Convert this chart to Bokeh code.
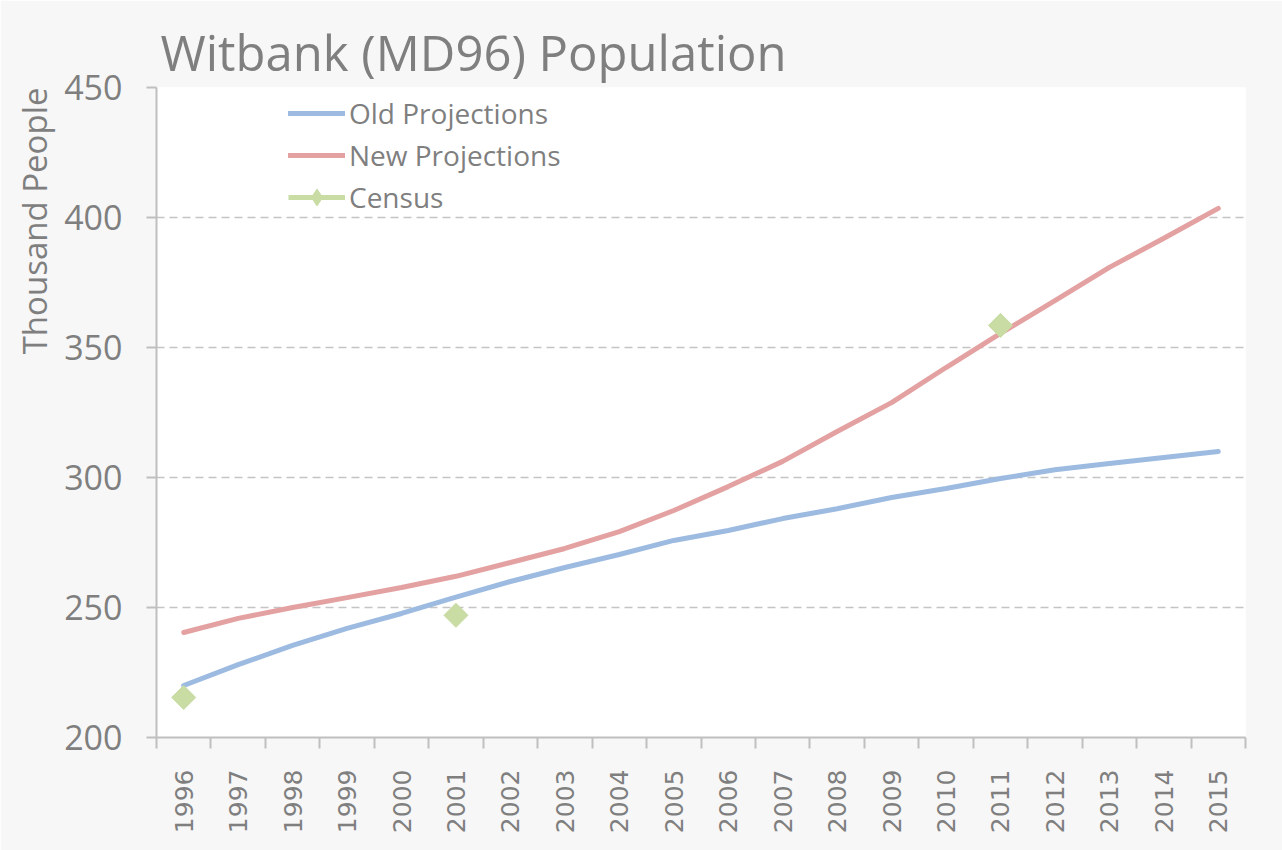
import math
from bokeh.plotting import figure
from bokeh.models import (Range1d, FixedTicker, Legend, LegendItem, Title, ColumnDataSource)
from bokeh.embed import file_html
from bokeh.resources import INLINE

years = list(range(1996, 2016))
old_proj = [220.0, 228.0, 235.4, 242.0, 247.7, 254.0, 260.0, 265.4, 270.4, 275.8,
            279.6, 284.2, 288.0, 292.3, 295.8, 299.6, 303.0, 305.4, 307.7, 310.0]
new_proj = [240.4, 245.8, 250.0, 253.8, 257.7, 262.0, 267.3, 272.7, 279.2, 287.3,
            296.5, 306.2, 317.7, 328.8, 342.3, 355.4, 368.0, 380.8, 392.0, 403.5]
census_years = [1996, 2001, 2011]
census_vals = [215.4, 247.0, 358.5]
y_ticks = [200, 250, 300, 350, 400, 450]

BLUE = "#9dbbe1"
RED = "#e3a2a1"
GREEN = "#c8dca4"
AXIS = "#bfbfbf"
TXT = "#7f7f7f"
FONT = "Open Sans"

p = figure(width=1282, height=850, output_backend="svg", toolbar_location=None,
           x_range=Range1d(1995.5, 2015.5), y_range=Range1d(200, 450),
           min_border_left=156, min_border_right=37, min_border_top=87, min_border_bottom=113)
p.border_fill_color = "#f7f7f7"
p.background_fill_color = "white"
p.outline_line_color = None

# titles
p.title = Title(text="Witbank (MD96) Population", text_font=FONT, text_font_size="49px",
                text_font_style="normal", text_color=TXT, align="left", offset=4,
                standoff=6)
p.add_layout(Title(text="Thousand People", text_font=FONT, text_font_size="33px",
                   text_font_style="normal", text_color=TXT, align="right"), "left")

# axes
xa = p.xaxis[0]
xa.ticker = FixedTicker(ticks=years, minor_ticks=[y - 0.5 for y in years] + [years[-1] + 0.5])
xa.major_tick_out = 0
xa.major_tick_in = 0
xa.minor_tick_out = 11
xa.minor_tick_in = 0
xa.minor_tick_line_color = AXIS
xa.minor_tick_line_width = 2
xa.axis_line_color = AXIS
xa.axis_line_width = 2
xa.major_label_orientation = math.pi / 2
xa.major_label_text_font = "DejaVu Sans"
xa.major_label_text_font_size = "25px"
xa.major_label_text_color = TXT
xa.major_label_standoff = 21

ya = p.yaxis[0]
ya.ticker = FixedTicker(ticks=y_ticks)
ya.major_tick_out = 10
ya.major_tick_in = 0
ya.minor_tick_out = 0
ya.minor_tick_in = 0
ya.major_tick_line_color = AXIS
ya.major_tick_line_width = 2
ya.axis_line_color = AXIS
ya.axis_line_width = 2
ya.major_label_text_font = FONT
ya.major_label_text_font_size = "34px"
ya.major_label_text_color = TXT
ya.major_label_standoff = 24

p.xgrid.grid_line_color = None
p.ygrid.grid_line_color = "#c4c4c4"
p.ygrid.grid_line_width = 1.5
p.ygrid.grid_line_dash = "8 5"

src = ColumnDataSource(dict(x=years, old=old_proj, new=new_proj))
r_old = p.line("x", "old", source=src, line_color=BLUE, line_width=5, line_cap="round")
r_new = p.line("x", "new", source=src, line_color=RED, line_width=5, line_cap="round")
r_c = p.scatter(census_years, census_vals, marker="square", angle=math.pi / 4, size=17,
                fill_color=GREEN, line_color=GREEN)

# legend-only renderers for the Census key (line + diamond)
nan = float("nan")
r_cline = p.line([census_years[0]], [nan], line_color=GREEN, line_width=5)
r_cdiam = p.scatter([census_years[0]], [nan], marker="diamond", size=18,
                    fill_color=GREEN, line_color=GREEN)

legend = Legend(items=[LegendItem(label="Old Projections", renderers=[r_old]),
                       LegendItem(label="New Projections", renderers=[r_new]),
                       LegendItem(label="Census", renderers=[r_cline, r_cdiam])],
                location=(132, 519), padding=0, margin=0, spacing=0,
                glyph_width=57, glyph_height=42, label_height=42, label_standoff=4,
                label_text_font=FONT, label_text_font_size="28px", label_text_color=TXT,
                background_fill_alpha=0, border_line_color=None)
p.add_layout(legend)

open("out.html", "w").write(file_html(p, INLINE))
